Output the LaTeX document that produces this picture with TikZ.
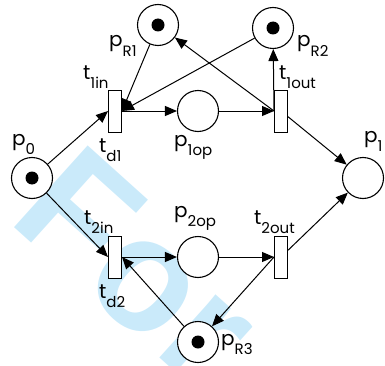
\documentclass[tikz,border=0pt]{standalone}
\usepackage{fontspec}
\setmainfont{Poppins}
\newfontfamily\markfont{Liberation Sans}
\usetikzlibrary{arrows.meta,positioning,calc}
\definecolor{markblue}{RGB}{202,234,250}
\newcommand{\lowsub}[1]{\raisebox{-9pt}{\fontsize{15}{15}\selectfont #1}}
\tikzstyle{place} = [circle, draw=black, fill=white, line width=1.1pt, minimum size=41pt, inner sep=0pt]
\tikzstyle{marked} = [place, path picture={\fill[black] (path picture bounding box.center) circle (6.5pt);}]
\tikzstyle{transition} = [rectangle, draw=black, fill=white, line width=1pt, minimum width=13pt, minimum height=42pt, inner sep=0pt]
\tikzstyle{lbl} = [anchor=base west, inner sep=0pt, font=\fontsize{20}{20}\selectfont]
\tikzstyle{arrow} = [line width=1pt, -{Triangle[length=12pt,width=10pt]}]

\begin{document}
\begin{tikzpicture}[x=1pt, y=1pt]
\useasboundingbox (0,0) rectangle (385,365);

% Wasserzeichen
\node (mark) [anchor=base west, rotate=-42, text=markblue, inner sep=0pt, font=\markfont\bfseries\fontsize{160}{160}\selectfont] at (6,145) {For};

% STELLEN
\node (p0) [marked] at (32,187) {};
\node (pR1) [marked] at (158,340) {};
\node (pR2) [marked] at (273,337) {};
\node (p1op) [place] at (198,254) {};
\node (p1) [place] at (363,187) {};
\node (p2op) [place] at (198,108) {};
\node (pR3) [marked] at (198,23) {};

% TRANSITIONEN
\node (t1in) [transition] at (115,254) {};
\node (t1out) [transition] at (281,254) {};
\node (t2in) [transition] at (115,108) {};
\node (t2out) [transition] at (281,108) {};

% Beschriftung
\node (lp0) [lbl] at (12,220) {p\lowsub{0}};
\node (lpR1) [lbl] at (109,318) {p\lowsub{R1}};
\node (lpR2) [lbl] at (297,318) {p\lowsub{R2}};
\node (lp1op) [lbl] at (174,219) {p\lowsub{1op}};
\node (lp1) [lbl] at (364,223) {p\lowsub{1}};
\node (lp2op) [lbl] at (174,148) {p\lowsub{2op}};
\node (lpR3) [lbl] at (221,20) {p\lowsub{R3}};
\node (lt1in) [lbl] at (83,286) {t\lowsub{1in}};
\node (ltd1) [lbl] at (99,213) {t\lowsub{d1}};
\node (lt1out) [lbl] at (279,286) {t\lowsub{1out}};
\node (lt2in) [lbl] at (84,141) {t\lowsub{2in}};
\node (ltd2) [lbl] at (99,67) {t\lowsub{d2}};
\node (lt2out) [lbl] at (254,141) {t\lowsub{2out}};

% PFEILE - erster Zweig
\draw [arrow] (p0) -- (t1in.west);
\draw [arrow] (pR1) -- (t1in.east);
\draw [arrow] (pR2) -- (t1in.east);
\draw [arrow] (t1in) -- (p1op);
\draw [arrow] (p1op) -- (t1out);
\draw [arrow] (t1out.west) -- (pR1);
\draw [arrow] (t1out.west) -- (pR2);
\draw [arrow] (t1out) -- (p1);

% PFEILE - zweiter Zweig
\draw [arrow] (p0) -- (t2in.west);
\draw [arrow] (t2in) -- (p2op);
\draw [arrow] (pR3) -- (t2in.east);
\draw [arrow] (p2op) -- (t2out);
\draw [arrow] (t2out) -- (p1);
\draw [arrow] (t2out.west) -- (pR3);

\end{tikzpicture}
\end{document}
